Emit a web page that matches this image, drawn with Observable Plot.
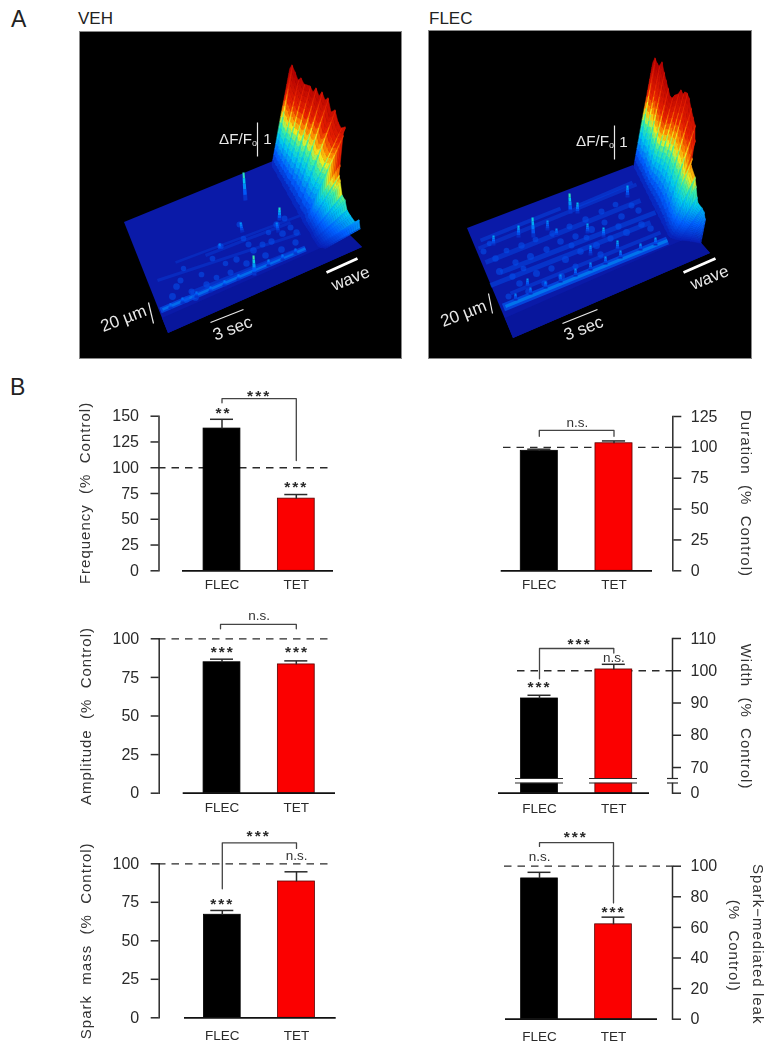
<!DOCTYPE html>
<html><head><meta charset="utf-8">
<script src="https://cdn.jsdelivr.net/npm/d3@7"></script>
<script src="https://cdn.jsdelivr.net/npm/@observablehq/plot@0.6"></script>
<style>
html,body{margin:0;padding:0;background:#fff}
#page{position:relative;width:773px;height:1050px;overflow:hidden;font-family:"Liberation Sans",Arial,sans-serif;color:#222}
.cap{position:absolute;line-height:1}
g[font-size="15"]{letter-spacing:1px}
g[font-size="15.5"]{letter-spacing:2px}
</style></head><body><div id="page"></div>
<script>
const categories = ["FLEC","TET"];
const frequencyMean=[138,70], frequencyTop=[147,74];
const durationMean=[97.2,103.3], durationTop=[98.5,105.2];
const amplitudeMean=[84.8,83.4], amplitudeTop=[86.8,85.7];
const widthMean=[91.4,100.4], widthTop=[92.4,102];
const massMean=[66.9,88.5], massTop=[69.7,94.8];
const leakMean=[92,62], leakTop=[96,66.7];
const ticks25_150=[0,25,50,75,100,125,150], ticks25_125=[0,25,50,75,100,125], ticks25_100=[0,25,50,75,100];
const ticksWidth=[0,70,80,90,100,110], ticksLeak=[0,20,40,60,80,100];

// ---------- image panels: picture readings [baseX,baseY,topX,topY,amplitude]
const vehFloor=[[124,222,168,333],[273,161,362,247]];
const flecFloor=[[467,228,513,338],[633,165,710,253]];
const vehFront=[[168,333,362,247],[162,318,350,235]];
const flecFront=[[513,338,710,253],[505,318,694,235]];
const vehWave=[[272,165,290,68,1],[273,168,292,65,1],[275,171,295,72,1],[277,174,298,80,.97],[278,177,301,78,.97],[280,180,304,84,.95],[282,183,307,85,.95],[283,186,310,86,.95],[285,189,313,92,.93],[287,192,316,88,.93],[288,195,319,96,.92],[290,198,322,92,.92],[292,201,325,100,.9],[293,204,328,98,.9],[295,207,331,112,.88],[297,210,335,110,.88],[298,213,338,122,.85],[300,216,341,128,.85],[302,219,345,127,.85],[303,222,343,135,.82],[305,225,340,165,.68],[307,228,339,175,.6],[309,231,340,180,.56],[311,234,342,195,.46],[312,237,345,200,.42],[314,240,347,210,.34],[316,243,350,215,.3],[318,246,355,222,.26],[320,247,359,220,.24],[324,248,360,228,.2]];
const flecWave=[[634,166,653,62,1],[635,169,655,58,1],[637,172,657,63,1],[638,175,659,66,1],[640,178,662,62,1],[641,181,664,72,.98],[643,184,666,80,.96],[644,187,668,88,.94],[646,190,670,96,.92],[647,193,672,98,.9],[649,196,675,95,.92],[650,199,678,94,.92],[652,202,681,90,.94],[653,205,683,94,.93],[655,208,685,92,.93],[656,211,687,93,.93],[658,214,689,98,.91],[659,217,691,108,.88],[661,220,693,117,.85],[662,223,695,125,.83],[664,226,695,140,.76],[665,229,692,158,.68],[667,232,691,165,.6],[668,235,695,177,.54],[670,237,696,186,.46],[672,238,697,197,.38],[675,239,698,203,.33],[680,240,702,208,.28],[690,241,704,212,.25],[700,243,705,218,.2]];
const vehSparks=[[245,200,243,172,.42],[279,220,279,207,.4],[254,275,253,255,.45],[242,232,240,222,.25],[220,250,219,243,.22],[278,232,276,222,.22],[170,308,170,303,.2],[182,303,182,297,.2],[196,297,196,291,.2],[210,292,210,286,.2],[224,286,224,280,.22],[238,280,238,274,.22],[268,266,268,259,.22],[282,260,282,254,.22],[295,254,295,248,.2]];
const flecSparks=[[570,213,569,193,.42],[533,237,532,217,.36],[518,237,518,225,.3],[493,245,493,235,.28],[577,213,577,202,.32],[587,233,587,223,.28],[603,237,603,227,.3],[617,250,617,240,.3],[627,197,627,185,.28],[547,230,547,220,.24],[527,287,527,278,.25],[590,255,590,245,.24],[556,236,556,228,.22],[515,300,515,293,.22],[530,294,530,287,.22],[545,288,545,281,.22],[560,282,560,274,.24],[575,276,575,268,.24],[590,270,590,262,.24],[605,264,605,256,.24],[620,258,620,250,.24],[640,250,640,243,.26],[655,245,655,237,.26]];
const vehStreaks=[[160,310,305,248,.13,6],[162,309,305,248,.2,2.5],[157,280,300,233,.05,3],[175,262,300,215,.045,2.5],[190,292,295,250,.07,3.5],[205,255,290,222,.05,3]];
const flecStreaks=[[503,307,667,240,.14,8],[505,306,667,240,.22,3],[490,285,650,222,.08,5],[485,262,640,200,.07,5],[478,248,636,184,.06,4],[510,293,660,232,.07,4],[500,272,655,212,.08,5],[480,240,560,208,.07,4],[578,205,632,182,.07,4]];
const vehBlots=[[180,280,2],[176,286,2.5],[191,291,2],[201,274,1.8],[183,268,1.6],[212,258,1.8],[220,246,2.2],[239,224,2],[253,250,2.4],[262,244,2],[271,241,2.2],[282,233,2.5],[290,227,2],[276,224,2.2],[284,218,2],[248,244,2],[236,259,2.2],[225,263,1.7],[206,284,2.2],[195,297,2.5],[216,277,1.8],[230,272,2],[246,263,2.3],[265,255,2.4],[281,249,2.5],[295,242,2.2],[172,296,2.6],[186,299,2.2],[243,238,1.8],[296,232,2.2],[268,232,1.6]];
const flecBlots=[[495,258,2.5],[506,250,2],[521,245,2.5],[535,239,2],[552,233,2.4],[569,226,2.2],[585,219,2.5],[601,211,2.2],[615,204,2],[499,271,3],[515,262,2.4],[530,256,3],[546,249,2.4],[560,241,2.6],[575,236,2.4],[591,229,3],[604,222,2.2],[621,216,2.6],[519,283,2.6],[536,273,3],[551,268,2.4],[565,259,3],[580,251,2.6],[596,245,3],[610,238,2.4],[626,232,3],[641,224,2.6],[528,291,2.6],[544,283,2.4],[561,276,3],[631,205,2.2],[512,276,2.4],[508,296,2.2],[523,268,2],[571,245,2.2],[586,237,2],[618,226,2.4],[650,228,2.6],[638,210,2.4],[600,254,2.4],[575,266,2.2],[483,251,2.2],[489,243,1.8]];
const jetStops=[0,.14,.3,.42,.5,.58,.7,1];
const jetColors=["#0a1eb4","#0060ff","#00c8f0","#40f0a0","#f0f020","#ff9000","#e82000","#b00000"];

const page=document.getElementById("page");
function place(svg,l,t){svg.style.position="absolute";svg.style.left=l+"px";svg.style.top=t+"px";svg.style.overflow="visible";svg.style.maxWidth="none";page.appendChild(svg);return svg;}
function cap(txt,x,y,size){const d=document.createElement("div");d.className="cap";d.textContent=txt;d.style.left=x+"px";d.style.top=y+"px";d.style.fontSize=size+"px";page.appendChild(d);}
const along=(r,t)=>[r[0]+(r[2]-r[0])*t,r[1]+(r[3]-r[1])*t];
const segs=(rows,n,w0,w1,ripple=0)=>rows.flatMap((r,i)=>d3.range(n).map(k=>{const a=along(r,k/n),b=along(r,(k+1)/n);return{x1:a[0],y1:a[1],x2:b[0],y2:b[1],f:r[4]*(k+.5)/n*(1-(i%2)*ripple),w:w0+(w1-w0)*k/n};}));
// the wave as a sheet between neighbouring ridges, coloured by its height above the floor
const sheet=(rows,n)=>d3.range(rows.length-1).flatMap(i=>d3.range(n).flatMap(k=>{
  const f=(rows[i][4]+rows[i+1][4])/2*(k+.5)/n, id=i+"-"+k;
  return [rows[i],rows[i+1]].map(r=>{const a=along(r,k/n),b=along(r,(k+1)/n);return{id,f,x1:a[0],y1:a[1],x2:b[0],y2:b[1]};});
}));

function imagePanel(cfg){
  const [L,T,R,B]=cfg.box;
  const white="#e8e8e8";
  const svg=Plot.plot({width:R-L,height:B-T,margin:0,
    x:{domain:[L,R],range:[0,R-L],axis:null},
    y:{domain:[T,B],range:[0,B-T],axis:null},
    color:{type:"linear",domain:[0,1],interpolate:t=>d3.scaleLinear().domain(jetStops).range(jetColors)(t)},
    style:{background:"#000",fontFamily:"Liberation Sans, Arial, sans-serif",overflow:"visible"},
    marks:[
      Plot.area(cfg.floor,{x1:d=>d[0],y1:d=>d[1],x2:d=>d[2],y2:d=>d[3],fill:"#0a1aa8",curve:"linear"}),
      Plot.area(cfg.front,{x1:d=>d[0],y1:d=>d[1],x2:d=>d[2],y2:d=>d[3],fill:"#08169c",curve:"linear"}),
      Plot.link(cfg.streaks,{x1:d=>d[0],y1:d=>d[1],x2:d=>d[2],y2:d=>d[3],stroke:d=>d[4],strokeWidth:d=>d[5],strokeOpacity:.6}),
      Plot.dot(cfg.blots,{x:d=>d[0],y:d=>d[1],r:d=>d[2],fill:()=>.1,fillOpacity:.6,stroke:null}),
      Plot.link(segs(cfg.sparks,5,4,1.6),{x1:"x1",y1:"y1",x2:"x2",y2:"y2",stroke:"f",strokeWidth:"w"}),
      Plot.area(sheet(cfg.wave,18),{x1:"x1",y1:"y1",x2:"x2",y2:"y2",z:"id",fill:"f",stroke:"f",strokeWidth:.5,curve:"linear"}),
      Plot.link(segs(cfg.wave,18,1.4,1.1,.14),{x1:"x1",y1:"y1",x2:"x2",y2:"y2",stroke:"f",strokeWidth:"w"}),
      Plot.link([cfg.bar20],{x1:d=>d[0],y1:d=>d[1],x2:d=>d[2],y2:d=>d[3],stroke:white,strokeWidth:1.2}),
      Plot.link([cfg.bar3],{x1:d=>d[0],y1:d=>d[1],x2:d=>d[2],y2:d=>d[3],stroke:white,strokeWidth:1.2}),
      Plot.link([cfg.barW],{x1:d=>d[0],y1:d=>d[1],x2:d=>d[2],y2:d=>d[3],stroke:"#fff",strokeWidth:3}),
      Plot.link([cfg.barF],{x1:d=>d[0],y1:d=>d[1],x2:d=>d[2],y2:d=>d[3],stroke:white,strokeWidth:1.2}),
      Plot.text([["20 \u00b5m",...cfg.t20]],{x:d=>d[1],y:d=>d[2],text:d=>d[0],rotate:-21,fill:white,fontSize:17}),
      Plot.text([["3 sec",...cfg.t3]],{x:d=>d[1],y:d=>d[2],text:d=>d[0],rotate:-21,fill:white,fontSize:17}),
      Plot.text([["wave",...cfg.tW]],{x:d=>d[1],y:d=>d[2],text:d=>d[0],rotate:-22,fill:white,fontSize:17}),
      Plot.text([["\u0394F/F",...cfg.tF]],{x:d=>d[1],y:d=>d[2],text:d=>d[0],fill:white,fontSize:15.2}),
      Plot.text([["o",cfg.tF[0]+19,cfg.tF[1]+4]],{x:d=>d[1],y:d=>d[2],text:d=>d[0],fill:white,fontSize:9}),
      Plot.text([["1",...cfg.t1]],{x:d=>d[1],y:d=>d[2],text:d=>d[0],fill:white,fontSize:15.2}),
      Plot.frame({stroke:"#888"})
    ]});
  place(svg,L,T); svg.style.filter="blur(.7px)";
}
imagePanel({box:[79,31,401,358],floor:vehFloor,front:vehFront,wave:vehWave,sparks:vehSparks,streaks:vehStreaks,blots:vehBlots,
  bar20:[153,323,148,302],bar3:[210,322,243,309],barW:[326,272,357,258],barF:[257,122,257,156],
  t20:[123,318],t3:[232,328],tW:[350,278],tF:[235,139],t1:[267,139]});
imagePanel({box:[428,30,751,358],floor:flecFloor,front:flecFront,wave:flecWave,sparks:flecSparks,streaks:flecStreaks,blots:flecBlots,
  bar20:[492,313,488,293],bar3:[562,323,597,309],barW:[683,272,715,258],barF:[614,125,614,159],
  t20:[463,313],t3:[583,328],tW:[709,277],tF:[592,141],t1:[623,142]});

function barPanel(c){
  const [bl,bt,bw,bh]=c.box;
  const ink="#2a2a2a";
  const P=c.pos||(v=>v);
  const xv=px=>(px-c.cx[0])/(c.cx[1]-c.cx[0]);
  const bars=categories.map((k,i)=>({i,k,m:P(c.mean[i]),t:P(c.top[i])}));
  const ymin=P(c.domain[0]), ymax=P(c.domain[1]);
  const tickText=new Map(c.ticks.map(v=>[P(v),v]));
  const left=c.side==="left";
  const svg=Plot.plot({width:bw,height:bh,
    marginLeft:left?c.axis-bl:10,marginRight:left?10:bl+bw-c.axis,marginTop:c.yr[1]-bt,marginBottom:bt+bh-c.yr[0],
    x:{domain:[0,1],range:c.cx.map(v=>v-bl),axis:null},
    y:{domain:[ymin,ymax],range:c.yr.map(v=>v-bt),axis:null},
    style:{background:"transparent",color:ink,fontFamily:"Liberation Sans, Arial, sans-serif",overflow:"visible"},
    marks:[
      Plot.ruleY([P(c.dash)],{x1:xv(c.dashX[0]),x2:xv(c.dashX[1]),stroke:ink,strokeWidth:1.3,strokeDasharray:"7.5,6"}),
      Plot.rectY(bars,{x1:d=>d.i-.248,x2:d=>d.i+.248,y1:ymin,y2:"m",fill:d=>d.i?"#fb0000":"#000",stroke:d=>d.i?"#5a0000":"#000",strokeWidth:.8}),
      Plot.link(bars,{x1:"i",x2:"i",y1:"m",y2:"t",stroke:ink,strokeWidth:1.5}),
      Plot.ruleY(bars,{y:"t",x1:d=>d.i-.155,x2:d=>d.i+.155,stroke:ink,strokeWidth:1.5}),
      ...(c.brk?[
        Plot.ruleY([P(c.brk.mid)],{x1:xv(515),x2:xv(563),stroke:"#fff",strokeWidth:4}),
        Plot.ruleY([P(c.brk.mid)],{x1:xv(589),x2:xv(637),stroke:"#fff",strokeWidth:4}),
        Plot.ruleY(c.brk.lines.map(P),{x1:xv(515),x2:xv(563),stroke:ink,strokeWidth:1.2}),
        Plot.ruleY(c.brk.lines.map(P),{x1:xv(589),x2:xv(637),stroke:ink,strokeWidth:1.2})
      ]:[]),
      Plot.ruleY([ymin],{x1:xv(c.base[0]),x2:xv(c.base[1]),stroke:"#111",strokeWidth:1.8}),
      Plot.frame({anchor:c.side,stroke:ink,strokeWidth:1.5}),
      ...(c.brk?[
        Plot.ruleY([P(c.brk.mid)],{x1:xv(667),x2:xv(678),stroke:"#fff",strokeWidth:4}),
        Plot.ruleY(c.brk.lines.map(P),{x1:xv(667),x2:xv(678),stroke:ink,strokeWidth:1.2})
      ]:[]),
      Plot.axisY({anchor:c.side,ticks:c.ticks.map(P),tickFormat:d=>tickText.get(d),tickSize:8,tickPadding:left?12:10,fontSize:16,strokeWidth:1.5,label:null}),
      Plot.axisX({anchor:"bottom",ticks:[0,1],tickFormat:i=>categories[i],tickSize:0,tickPadding:c.catPad,fontSize:13.5,label:null}),
      Plot.line(c.bracket.map(d=>[d[0],P(d[1])]),{x:d=>d[0],y:d=>d[1],stroke:"#444",strokeWidth:1.3,curve:"linear"}),
      Plot.text(c.notes.filter(d=>d[0]!=="n.s."),{x:d=>d[1],y:d=>P(d[2]),text:d=>d[0],fontSize:15.5,fontWeight:"bold",fill:ink}),
      Plot.text(c.notes.filter(d=>d[0]==="n.s."),{x:d=>d[1],y:d=>P(d[2]),text:d=>d[0],fontSize:13.5,fill:"#333"}),
      ...c.labels.map(l=>Plot.text([l],{x:xv(l[1]),y:d=>P(d[2]),text:d=>d[0],rotate:left?-90:90,fontSize:15,fill:"#333"}))
    ]});
  place(svg,bl,bt); svg.style.filter="blur(.3px)";
}
const nb="\u00a0";
barPanel({box:[60,380,290,220],side:"left",axis:158.5,cx:[221.5,295.8],base:[182,333],dash:100,dashX:[158,332],catPad:9,
  mean:frequencyMean,top:frequencyTop,ticks:ticks25_150,domain:[0,150],yr:[570.3,415.7],
  bracket:[[0,163],[0,167],[1,167],[1,107]],notes:[["***",.5,170],["**",.02,153],["***",1,81]],
  labels:[[`Frequency ${nb}(%${nb} Control)`,85,75.5]]});
barPanel({box:[490,380,283,220],side:"right",axis:672.3,cx:[538.8,613.5],base:[500.7,652],dash:100,dashX:[503,672],catPad:9,
  mean:durationMean,top:durationTop,ticks:ticks25_125,domain:[0,125],yr:[570.3,416],
  bracket:[[0,109],[0,113.7],[1,113.7],[1,109]],notes:[["n.s.",.51,120]],
  labels:[[`Duration ${nb}(%${nb} Control)`,745,62.6]]});
barPanel({box:[60,600,290,220],side:"left",axis:158.7,cx:[221.5,295.8],base:[182.7,335],dash:100,dashX:[158,331],catPad:9,
  mean:amplitudeMean,top:amplitudeTop,ticks:ticks25_100,domain:[0,100],yr:[792.7,638.3],
  bracket:[[-.02,106.5],[-.02,109.3],[1,109.3],[1,106.5]],notes:[["n.s.",.5,115],["***",.01,91.5],["***",1.01,91.5]],
  labels:[[`Amplitude ${nb}(%${nb} Control)`,86,50]]});
// axis break: values above the break keep their scale, the stretch 0-65 is compressed
const widthPos=v=>v>=65?v:62.04+v*2.96/65;
barPanel({box:[490,600,283,220],side:"right",axis:672,cx:[539,613.3],base:[498,649],dash:100,dashX:[517,672],catPad:10,pos:widthPos,
  mean:widthMean,top:widthTop,ticks:ticksWidth,domain:[0,110],yr:[792.7,638],
  brk:{mid:65.9,lines:[65.2,66.6]},
  bracket:[[0,97.5],[0,106.9],[1,106.9],[1,105.5]],notes:[["***",.54,108.2],["n.s.",1,104.1],["***",0,95.1]],
  labels:[[`Width ${nb}(%${nb} Control)`,745,85.8]]});
barPanel({box:[60,820,290,230],side:"left",axis:158.7,cx:[221.8,296],base:[184,335.7],dash:100,dashX:[158,330],catPad:13,
  mean:massMean,top:massTop,ticks:ticks25_100,domain:[0,100],yr:[1017.3,863.3],
  bracket:[[0,83.8],[0,113.6],[1,113.6],[1,110]],notes:[["***",.49,118],["n.s.",1,105.5],["***",0,74]],
  labels:[[`Spark ${nb}mass ${nb}(%${nb} Control)`,86,50]]});
barPanel({box:[490,820,283,230],side:"right",axis:672,cx:[539,613],base:[505,657],dash:100,dashX:[504,672],catPad:12,
  mean:leakMean,top:leakTop,ticks:ticksLeak,domain:[0,100],yr:[1018.7,865.7],
  bracket:[[0,112.9],[0,115.4],[1,115.4],[1,76]],notes:[["***",.49,119],["n.s.",0,106.3],["***",1,70]],
  labels:[["Spark\u2212mediated leak",757,49],[`(%${nb} Control)`,733,48]]});

cap("A",11,8,23); cap("B",10,376,23);
cap("VEH",78,10,17); cap("FLEC",429,10,17);
</script></body></html>
